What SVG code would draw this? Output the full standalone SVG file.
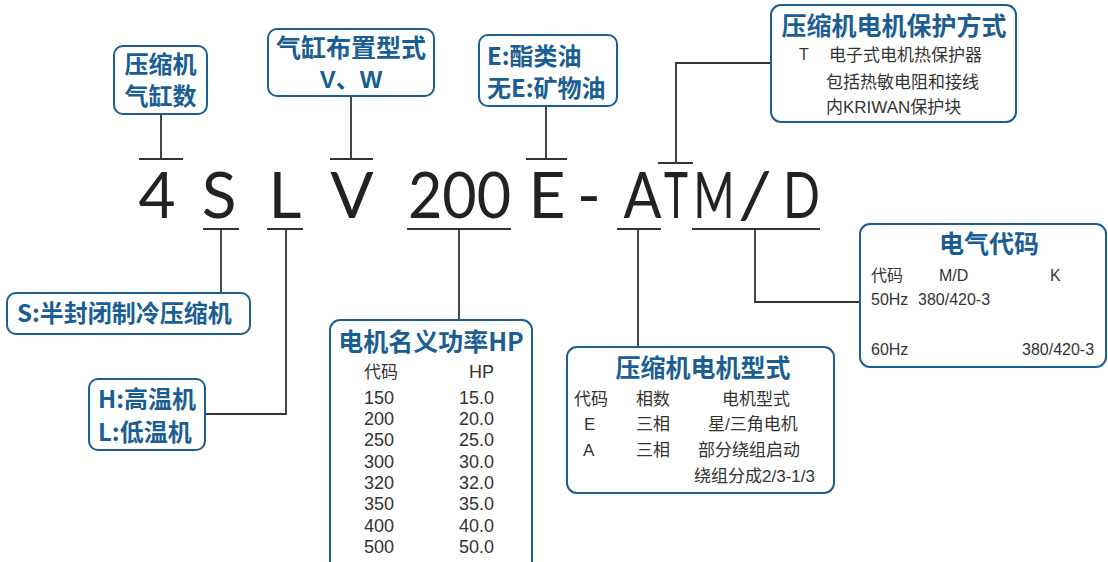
<svg xmlns="http://www.w3.org/2000/svg" width="1108" height="562" viewBox="0 0 1108 562">
<style>
.box{fill:#fff;stroke:#1b5e94;stroke-width:2}
.ln{stroke:#333;stroke-width:1.8;fill:none}
.t{font-family:'Noto Sans CJK SC',sans-serif;font-weight:bold;fill:#1b5e94;font-size:24px}
.tl{font-family:'Liberation Sans','Noto Sans CJK SC',sans-serif;font-weight:bold;fill:#1b5e94;font-size:24px}
.tt{font-family:'Noto Sans CJK SC',sans-serif;font-weight:bold;fill:#1b5e94;font-size:25px}
.b{font-family:'Liberation Sans','Noto Sans CJK SC',sans-serif;fill:#333;font-size:17px}
.d{font-family:'Liberation Sans','Noto Sans CJK SC',sans-serif;fill:#333;font-size:18px}
.s{font-family:'Liberation Sans','Noto Sans CJK SC',sans-serif;fill:#333;font-size:16px}
.big{font-family:'Lato','Liberation Sans',sans-serif;font-weight:normal;font-size:64px;fill:#222}
.m{text-anchor:middle}
.e{text-anchor:end}
</style>
<rect width="1108" height="562" fill="#fff"/>
<g id="code">
<text class="big m" y="218"><tspan x="157">4</tspan><tspan x="219">S</tspan><tspan x="285">L</tspan><tspan x="352">V</tspan><tspan x="459.5" textLength="103" lengthAdjust="spacingAndGlyphs">200</tspan><tspan x="547">E</tspan><tspan x="589">-</tspan><tspan x="642.5" textLength="38" lengthAdjust="spacingAndGlyphs">A</tspan><tspan x="676" textLength="24" lengthAdjust="spacingAndGlyphs">T</tspan><tspan x="714" textLength="41" lengthAdjust="spacingAndGlyphs">M</tspan><tspan x="755" textLength="34" lengthAdjust="spacingAndGlyphs">/</tspan><tspan x="801.5" textLength="37" lengthAdjust="spacingAndGlyphs">D</tspan></text>
</g>
<g id="connectors" class="ln">
<path d="M161 114V159M139 159H183"/>
<path d="M351 96V159M330 159H373"/>
<path d="M546 106V159M526 159H567"/>
<path d="M772 63H676V163M658 163H693"/>
<path d="M203 229H239M221 229V293"/>
<path d="M267 229H303M286 229V414H205"/>
<path d="M407 229H511M459 229V320"/>
<path d="M617 229H661M638 229V347"/>
<path d="M692 229H820M755 229V302H860"/>
</g>
<g id="n-cyl">
<rect class="box" x="114" y="46" width="93" height="68" rx="9"/>
<text class="t m" x="160.5" y="73">压缩机</text>
<text class="t m" x="160.5" y="105">气缸数</text>
</g>
<g id="n-layout">
<rect class="box" x="268" y="29" width="166" height="67" rx="9"/>
<text class="tt m" x="351" y="57">气缸布置型式</text>
<text class="tl m" x="351" y="88">V、W</text>
</g>
<g id="n-oil">
<rect class="box" x="479" y="35" width="138" height="71" rx="9"/>
<text class="t" x="487" y="65">E:酯类油</text>
<text class="t" x="487" y="97">无E:矿物油</text>
</g>
<g id="n-protect">
<rect class="box" x="771" y="5" width="245" height="117" rx="10"/>
<text class="tt m" x="894" y="35">压缩机电机保护方式</text>
<text class="s" x="799" y="60">T</text>
<text class="b" x="829" y="61">电子式电机热保护器</text>
<text class="b" x="826" y="88">包括热敏电阻和接线</text>
<text class="b" x="826" y="113">内KRIWAN保护块</text>
</g>
<g id="n-semi">
<rect class="box" x="7" y="293" width="243" height="41" rx="9"/>
<text class="t" x="17" y="322">S:半封闭制冷压缩机</text>
</g>
<g id="n-temp">
<rect class="box" x="89" y="379" width="116" height="71" rx="9"/>
<text class="t" x="98" y="408">H:高温机</text>
<text class="t" x="98" y="441">L:低温机</text>
</g>
<g id="n-hp">
<rect class="box" x="330" y="320" width="202" height="252" rx="10"/>
<text class="tt m" x="431" y="351">电机名义功率HP</text>
<text class="b" x="364" y="378">代码</text>
<text class="d e" x="494" y="378">HP</text>
<g class="d">
<text x="364" y="404">150</text><text class="e" x="494" y="404">15.0</text>
<text x="364" y="425">200</text><text class="e" x="494" y="425">20.0</text>
<text x="364" y="446">250</text><text class="e" x="494" y="446">25.0</text>
<text x="364" y="468">300</text><text class="e" x="494" y="468">30.0</text>
<text x="364" y="489">320</text><text class="e" x="494" y="489">32.0</text>
<text x="364" y="510">350</text><text class="e" x="494" y="510">35.0</text>
<text x="364" y="532">400</text><text class="e" x="494" y="532">40.0</text>
<text x="364" y="553">500</text><text class="e" x="494" y="553">50.0</text>
</g>
</g>
<g id="n-motor">
<rect class="box" x="567" y="347" width="267" height="146" rx="10"/>
<text class="tt m" x="703" y="377">压缩机电机型式</text>
<text class="b" x="574" y="405">代码</text>
<text class="b" x="636" y="405">相数</text>
<text class="b" x="722" y="405">电机型式</text>
<text class="b" x="584" y="430">E</text>
<text class="b" x="636" y="430">三相</text>
<text class="b" x="708" y="430">星/三角电机</text>
<text class="b" x="583" y="456">A</text>
<text class="b" x="636" y="456">三相</text>
<text class="b" x="698" y="456">部分绕组启动</text>
<text class="b" x="694" y="482">绕组分成2/3-1/3</text>
</g>
<g id="n-elec">
<rect class="box" x="860" y="224" width="246" height="143" rx="10"/>
<text class="tt m" x="989" y="253">电气代码</text>
<text class="s" x="871" y="281">代码</text>
<text class="s" x="939" y="281">M/D</text>
<text class="s" x="1050" y="281">K</text>
<text class="s" x="871" y="305">50Hz</text>
<text class="s" x="918" y="305">380/420-3</text>
<text class="s" x="871" y="355">60Hz</text>
<text class="s" x="1022" y="355">380/420-3</text>
</g>
</svg>
